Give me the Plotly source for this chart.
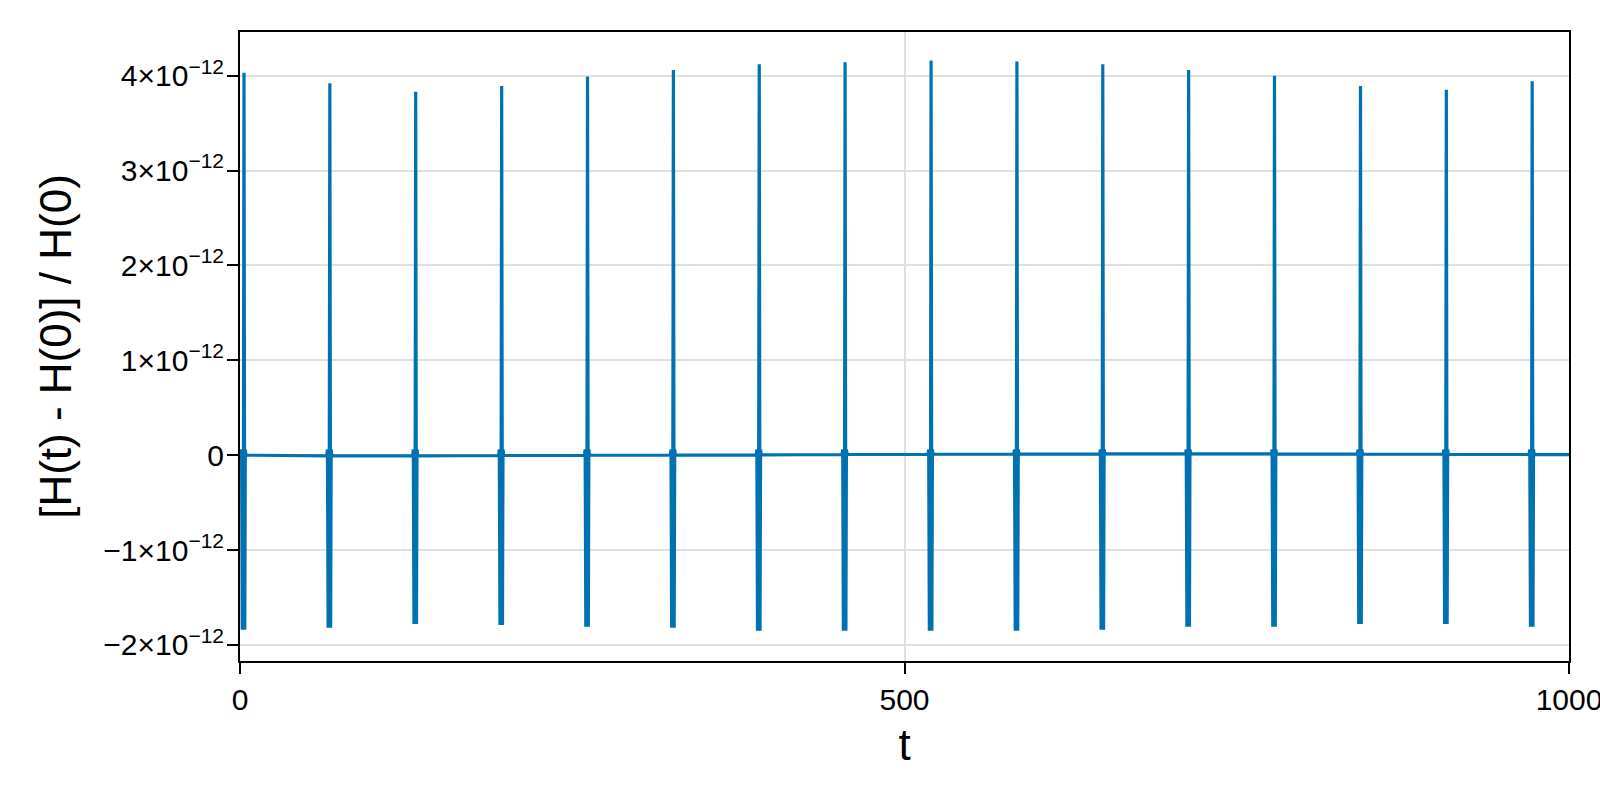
import plotly.graph_objects as go

# ---- data ----
spike_t = [2.7, 67.3, 131.9, 196.6, 261.2, 325.8, 390.4, 455.0,
           519.7, 584.3, 648.9, 713.5, 778.1, 842.8, 907.4, 972.0]
spike_max = [4.03, 3.92, 3.83, 3.89, 3.99, 4.06, 4.12, 4.14,
             4.16, 4.15, 4.12, 4.06, 4.00, 3.89, 3.85, 3.94]          # x1e-12
spike_min = [-1.84, -1.82, -1.78, -1.79, -1.81, -1.82, -1.85, -1.85,
             -1.85, -1.85, -1.84, -1.81, -1.81, -1.78, -1.78, -1.81]  # x1e-12
# slow drift of the baseline between close approaches (x1e-12)
baseline_t = [0.0, 35.0, 100.0, 165.0, 230.0, 295.0, 360.0, 425.0, 490.0,
              550.0, 615.0, 680.0, 745.0, 810.0, 875.0, 940.0, 1000.0]
baseline_v = [0.0, -0.005, -0.01, -0.005, -0.003, 0.0, 0.0, 0.005, 0.008,
              0.01, 0.012, 0.015, 0.015, 0.012, 0.01, 0.008, 0.005]
# shape of one close-approach burst: time offsets and which extreme is hit
burst_dt = [-2.0, -1.5, -1.0, -0.6, -0.3, 0.3, 0.9, 1.3, 1.8]
burst_kind = ["base", "blip", "min", "blip", "min", "max", "min", "blip", "base"]
blip_level = 0.06  # x1e-12

y_tickvals = [-2, -1, 0, 1, 2, 3, 4]
y_ticktext = ["−2×10<sup>−12</sup>", "−1×10<sup>−12</sup>", "0",
              "1×10<sup>−12</sup>", "2×10<sup>−12</sup>",
              "3×10<sup>−12</sup>", "4×10<sup>−12</sup>"]
x_tickvals = [0, 500, 1000]
x_ticktext = ["0", "500", "1000"]

SCALE = 1e-12

# ---- assemble the polyline ----
def base_at(t):
    for i in range(len(baseline_t) - 1):
        if baseline_t[i] <= t <= baseline_t[i + 1]:
            f = (t - baseline_t[i]) / (baseline_t[i + 1] - baseline_t[i])
            return baseline_v[i] + f * (baseline_v[i + 1] - baseline_v[i])
    return baseline_v[-1]

events = list(zip(baseline_t, baseline_v))
for tc, mx, mn in zip(spike_t, spike_max, spike_min):
    for dt, kind in zip(burst_dt, burst_kind):
        t = tc + dt
        if kind == "max":
            v = mx
        elif kind == "min":
            v = mn
        elif kind == "blip":
            v = blip_level
        else:
            v = base_at(t)
        events.append((t, v))
events = [e for e in events if 0 <= e[0] <= 1000]
events.sort(key=lambda e: e[0])
xs = [e[0] for e in events]
ys = [e[1] * SCALE for e in events]

fig = go.Figure()
fig.add_trace(go.Scatter(x=xs, y=ys, mode="lines",
                         line=dict(color="#0072B2", width=3.2),
                         showlegend=False, hoverinfo="skip"))

FONT = "Liberation Sans, Arial, sans-serif"
axis_common = dict(
    showline=True, linecolor="black", linewidth=2, mirror=True,
    ticks="outside", ticklen=11, tickwidth=2, tickcolor="black",
    showgrid=True, gridcolor="#e0e0e0", gridwidth=2,
    zeroline=False, ticklabeloverflow="allow", automargin=False,
    tickfont=dict(family=FONT, size=30, color="black"),
)

fig.update_layout(
    width=1600, height=800,
    margin=dict(l=240, r=31, t=32, b=139, autoexpand=False),
    paper_bgcolor="white", plot_bgcolor="white",
    font=dict(family=FONT, color="black"),
    xaxis=dict(range=[0, 1000], tickmode="array", tickvals=x_tickvals,
               ticktext=x_ticktext, ticklabelstandoff=0,
               title=dict(text="t", font=dict(size=44), standoff=14),
               **axis_common),
    yaxis=dict(range=[-2.17e-12, 4.46e-12], tickmode="array",
               tickvals=[v * SCALE for v in y_tickvals], ticktext=y_ticktext,
               ticklabelstandoff=-3,
               title=dict(text="[H(t) - H(0)] / H(0)", font=dict(size=44), standoff=18),
               **axis_common),
)

fig.write_html("out.html", config={"displayModeBar": False},
               post_script="document.body.style.margin='0';document.body.style.overflow='hidden';")
